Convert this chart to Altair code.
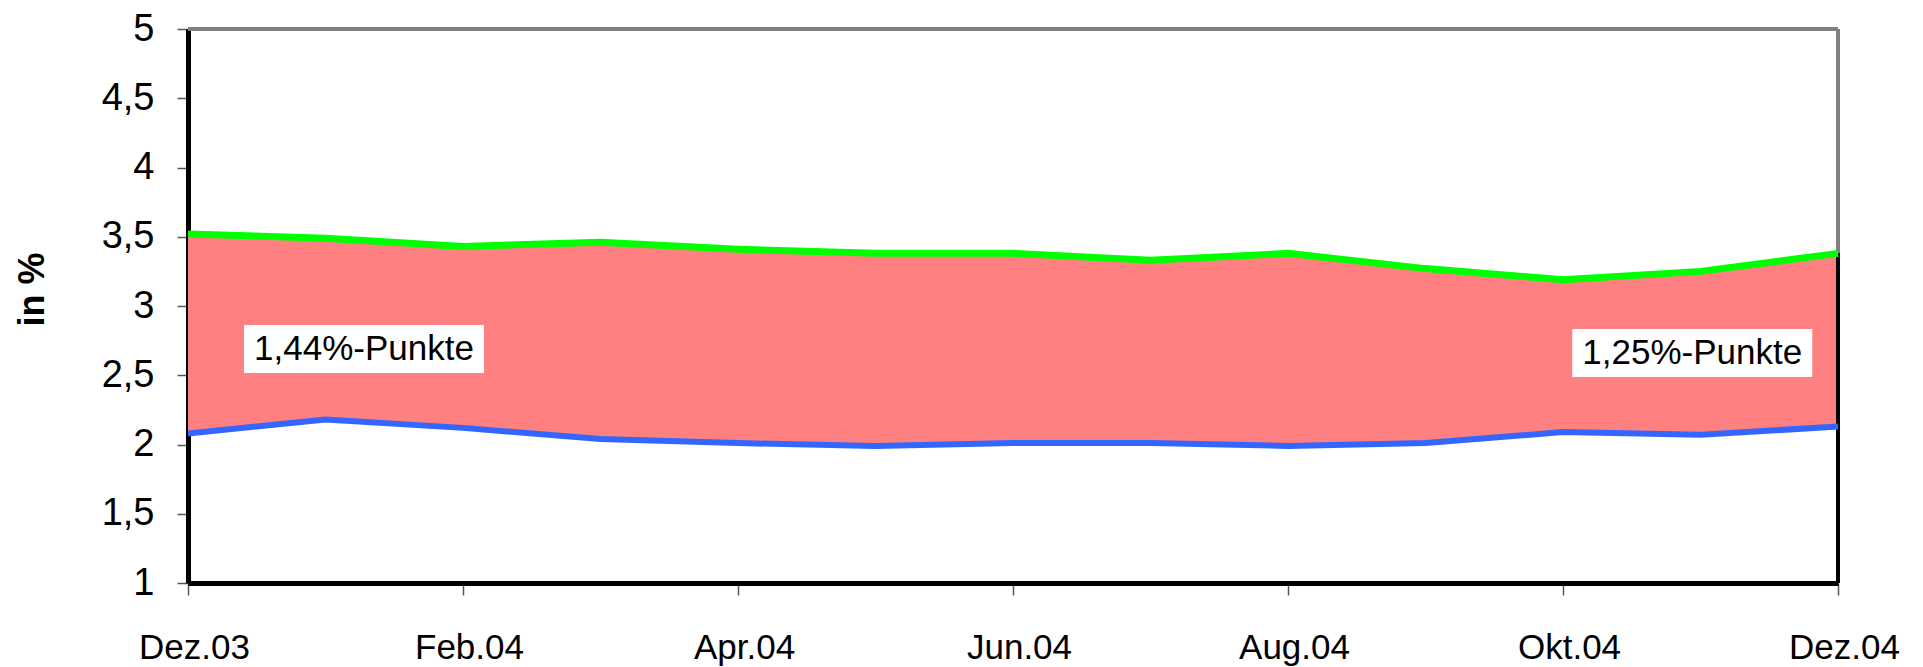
import altair as alt
import pandas as pd

months = ["Dez.03", "Jan.04", "Feb.04", "Mrz.04", "Apr.04", "Mai.04", "Jun.04",
          "Jul.04", "Aug.04", "Sep.04", "Okt.04", "Nov.04", "Dez.04"]
upper = [3.52, 3.49, 3.43, 3.46, 3.41, 3.38, 3.38, 3.33, 3.38, 3.27, 3.19, 3.25, 3.38]
lower = [2.08, 2.18, 2.12, 2.04, 2.01, 1.99, 2.01, 2.01, 1.99, 2.01, 2.09, 2.07, 2.13]

ann_text = ["1,44%-Punkte", "1,25%-Punkte"]
ann_x = [1.28, 10.94]
ann_y = [2.69, 2.66]

y_min, y_max = 1, 5
x_min, x_max = 0, len(months) - 1

df = pd.DataFrame({"idx": list(range(len(months))), "month": months,
                   "upper": upper, "lower": lower})
ann = pd.DataFrame({"text": ann_text, "x": ann_x, "y": ann_y})
frame = pd.DataFrame({"x0": [x_min], "x1": [x_max], "y0": [y_min], "y1": [y_max]})

label_js = "[" + ",".join("'%s'" % m for m in months) + "][datum.value]"

FONT = "Liberation Sans, Arial, sans-serif"

xs = alt.Scale(domain=[x_min, x_max], nice=False, zero=False)
ys = alt.Scale(domain=[y_min, y_max], nice=False, zero=False)

x_axis = alt.Axis(values=list(range(0, 13, 2)), labelExpr=label_js, grid=False,
                  domainColor="black", domainWidth=5, tickColor="#555555",
                  tickWidth=1.5, tickSize=12, labelFont=FONT, labelFontSize=35,
                  labelColor="black", labelBaseline="alphabetic", labelPadding=63,
                  labelOffset=6, title=None, labelFlush=False)
y_axis = alt.Axis(values=[1, 1.5, 2, 2.5, 3, 3.5, 4, 4.5, 5],
                  labelExpr="replace(toString(datum.value), '.', ',')", grid=False,
                  domainColor="black", domainWidth=5, tickColor="#555555",
                  tickWidth=1.5, tickSize=11, labelFont=FONT,
                  labelFontSize=38, labelColor="black", labelPadding=23,
                  title="in %", titleFont=FONT, titleFontSize=36, titleFontWeight="bold",
                  titleColor="black", titleX=-156, titleY=260, titleAlign="center",
                  titleBaseline="middle", titleAngle=-90, labelFlush=False)

base = alt.Chart(df)

top_rule = alt.Chart(frame).mark_rule(color="#808080", strokeWidth=4).encode(
    x=alt.X("x0:Q", scale=xs), x2="x1:Q", y=alt.Y("y1:Q", scale=ys))
right_rule = alt.Chart(frame).mark_rule(color="#808080", strokeWidth=4).encode(
    x=alt.X("x1:Q", scale=xs), y=alt.Y("y0:Q", scale=ys), y2="y1:Q")

area = base.mark_area(color="#FF8080", opacity=1).encode(
    x=alt.X("idx:Q", scale=xs, axis=x_axis),
    y=alt.Y("upper:Q", scale=ys, axis=y_axis),
    y2="lower:Q",
)

line_up = base.mark_line(color="#00FF00", strokeWidth=7).encode(
    x=alt.X("idx:Q", scale=xs), y=alt.Y("upper:Q", scale=ys))
line_lo = base.mark_line(color="#3366FF", strokeWidth=6).encode(
    x=alt.X("idx:Q", scale=xs), y=alt.Y("lower:Q", scale=ys))

edge = base.transform_filter(alt.datum.idx == x_max).transform_calculate(
    floor=str(y_min)).mark_rule(color="black", strokeWidth=4).encode(
    x=alt.X("idx:Q", scale=xs), y=alt.Y("upper:Q", scale=ys), y2="floor:Q")

box = alt.Chart(ann).mark_point(
    shape="M-1,-0.2L1,-0.2L1,0.2L-1,0.2Z", size=57600, filled=True,
    fill="white", opacity=1, strokeWidth=0).encode(
    x=alt.X("x:Q", scale=xs), y=alt.Y("y:Q", scale=ys))

txt = alt.Chart(ann).mark_text(font=FONT, fontSize=35, color="black",
                               align="center", baseline="middle").encode(
    x=alt.X("x:Q", scale=xs), y=alt.Y("y:Q", scale=ys), text="text:N")

chart = alt.layer(top_rule, right_rule, area, edge, line_up, line_lo, box, txt).properties(
    width=1650, height=554,
    autosize=alt.AutoSizeParams(type="none"),
    padding={"left": 180, "top": 21, "right": 70, "bottom": 110},
).configure_view(stroke=None).configure(background="white")

chart.save("out.html", embed_options={"renderer": "svg", "actions": False})
